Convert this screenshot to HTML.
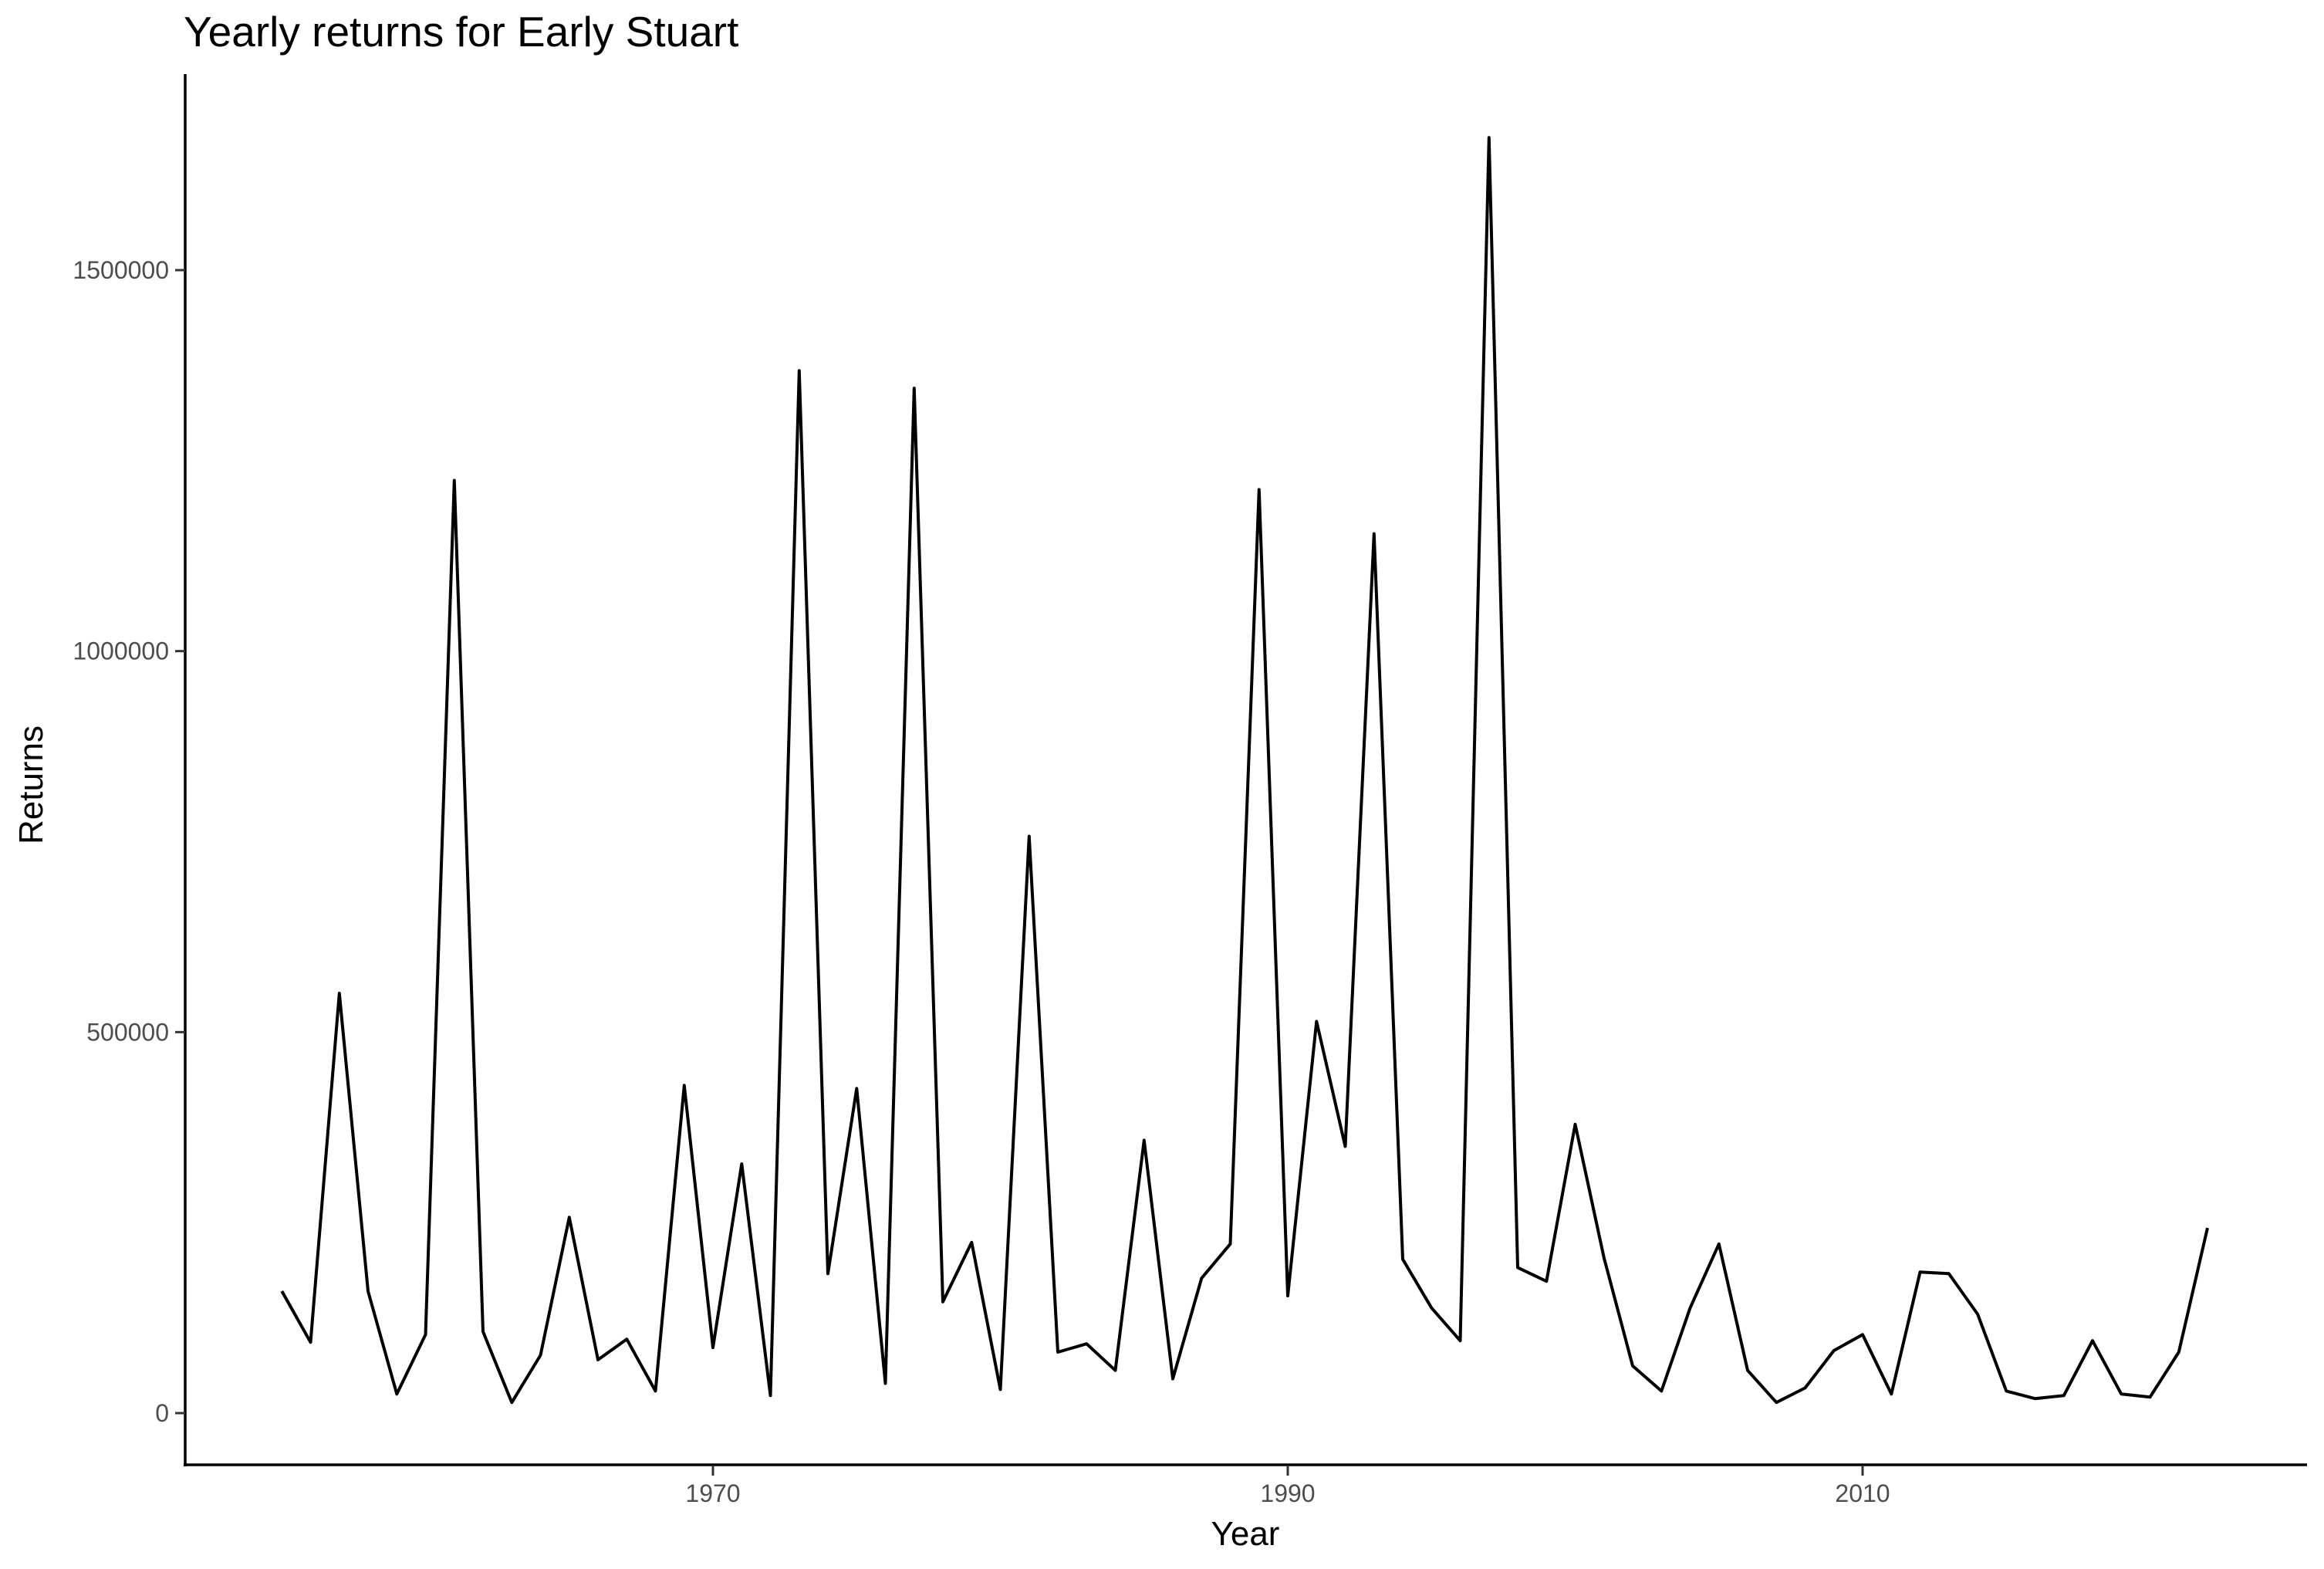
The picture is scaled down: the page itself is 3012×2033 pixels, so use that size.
<!DOCTYPE html>
<html><head><meta charset="utf-8"><style>html,body{margin:0;padding:0;background:#fff}svg{display:block}</style></head>
<body>
<svg id="chart" width="3012" height="2033" viewBox="0 0 3012 2033" xmlns="http://www.w3.org/2000/svg" font-family="Liberation Sans, sans-serif">
<rect width="3012" height="2033" fill="#fff"/>
<text x="238" y="60" font-size="55" fill="#000">Yearly returns for Early Stuart</text>
<text transform="translate(55,1017) rotate(-90)" text-anchor="middle" font-size="44" fill="#000">Returns</text>
<text x="1614" y="2002" text-anchor="middle" font-size="44" fill="#000">Year</text>
<g id="axes"></g>
<path id="series" fill="none" stroke="#000" stroke-width="4" stroke-linejoin="round"/>
</svg>
<script>
const startYear = 1955;
const returns = [160000,93000,551000,160000,25000,103000,1224000,107000,14000,76000,257000,70000,97000,29000,430000,86000,327000,23000,1368000,183000,426000,39000,1345000,146000,224000,31000,757000,80000,91000,56000,358000,45000,177000,222000,1212000,154000,514000,350000,1154000,202000,138000,95000,1674000,191000,173000,379000,204000,62000,29000,138000,222000,56000,14000,33000,82000,103000,25000,185000,183000,130000,29000,19000,23000,95000,25000,21000,80000,243000];
const xTicks = [1970,1990,2010];
const yTicks = [0,500000,1000000,1500000];
const yTickLabels = ["0","500000","1000000","1500000"];

const X = y => 924 + (y - 1970) * (1669 - 924) / 20;
const Y = v => 1831 - v * (1831 - 350) / 1500000;
const NS = "http://www.w3.org/2000/svg";
const axes = document.getElementById('axes');
function mk(tag, attrs){const e=document.createElementNS(NS,tag);for(const k in attrs)e.setAttribute(k,attrs[k]);axes.appendChild(e);return e;}
let a = mk('line',{x1:240,y1:96,x2:240,y2:1900,stroke:'#000','stroke-width':3.5});


a = mk('line',{x1:238,y1:1898,x2:2990,y2:1898,stroke:'#000','stroke-width':3.5});


xTicks.forEach(t=>{
  const x = X(t);
  const l = mk('line',{x1:x,y1:1899,x2:x,y2:1912,stroke:'#333','stroke-width':3});
  
  
  const tx = mk('text',{x:x,y:1946,'text-anchor':'middle','font-size':32,fill:'#4d4d4d'});
  tx.textContent = t;
  
  
});
yTicks.forEach((t,i)=>{
  const y = Y(t);
  const l = mk('line',{x1:227,y1:y,x2:240,y2:y,stroke:'#333','stroke-width':3});
  
  
  const tx = mk('text',{x:219,y:y+11,'text-anchor':'end','font-size':32,fill:'#4d4d4d'});
  tx.textContent = yTickLabels[i];
  
  
});
document.getElementById('series').setAttribute('d', returns.map((v,i)=>(i?'L':'M')+X(startYear+i).toFixed(1)+','+Y(v).toFixed(1)).join(' '));
</script>
</body></html>
